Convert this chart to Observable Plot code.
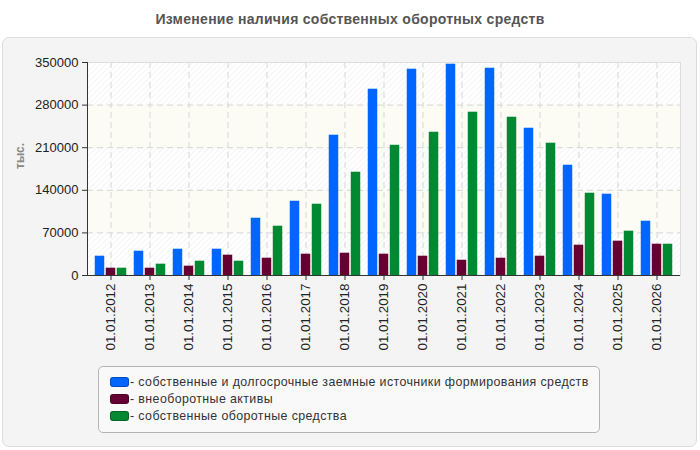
<!DOCTYPE html>
<html lang="ru">
<head>
<meta charset="utf-8">
<script src="https://cdn.jsdelivr.net/npm/d3@7"></script>
<script src="https://cdn.jsdelivr.net/npm/@observablehq/plot@0.6"></script>
<style>
  html, body { margin: 0; padding: 0; background: #fff; }
  body { width: 700px; height: 450px; position: relative; overflow: hidden;
         font-family: "Liberation Sans", Arial, sans-serif; }
  #panel { position: absolute; left: 2px; top: 37px; width: 693px; height: 408px;
           background: #f4f4f4; border: 1px solid #dcdcdc; border-radius: 7px; }
  #title { position: absolute; left: 0; top: 11px; width: 700px; text-align: center;
           font-size: 14px; letter-spacing: 0.28px; font-weight: bold; color: #555; }
  #chart { position: absolute; left: 0; top: 0; }
  #legend { position: absolute; left: 98px; top: 366px; width: 502px; height: 67px;
            background: #f9f9f9; border: 1px solid #b4b4b4; border-radius: 5px;
            box-sizing: border-box; padding: 7px 0 0 11px; font-size: 12.4px;
            letter-spacing: 0.4px; color: #333; }
  .row { height: 17px; line-height: 17px; white-space: nowrap; }
  .sw { display: inline-block; width: 17px; height: 8px; border-radius: 3px;
        border: 1px solid rgba(0,0,0,0.25); vertical-align: -1px; margin-right: 1px; }
</style>
</head>
<body>
<div id="panel"></div>
<div id="title">Изменение наличия собственных оборотных средств</div>
<div id="chart"></div>
<div id="legend"></div>
<script>
// Dates of the balance sheets
const dates = ["01.01.2012", "01.01.2013", "01.01.2014", "01.01.2015", "01.01.2016",
  "01.01.2017", "01.01.2018", "01.01.2019", "01.01.2020", "01.01.2021",
  "01.01.2022", "01.01.2023", "01.01.2024", "01.01.2025", "01.01.2026"];

// Own and long-term borrowed sources, thousand
const sources = [31700, 39900, 43200, 43200, 94100, 122000, 230500, 306100, 339000,
  347200, 340600, 242000, 181200, 133600, 89200];

// Non-current assets, thousand
const nonCurrent = [12000, 12000, 15300, 33400, 28400, 35000, 36600, 35000, 31700,
  25100, 28400, 31700, 49800, 56400, 51400];

// Own working capital, thousand
const working = [12000, 18600, 23500, 23500, 81000, 117100, 169700, 214000, 235400,
  268300, 260100, 217400, 135200, 72800, 51400];

const seriesNames = [
  "собственные и долгосрочные заемные источники формирования средств",
  "внеоборотные активы",
  "собственные оборотные средства"
];
const seriesColors = ["#0066ff", "#660033", "#008833"];
const yTicks = [0, 70000, 140000, 210000, 280000, 350000];

const width = 700, height = 360;
const marginLeft = 87, marginRight = 20, marginTop = 62, marginBottom = 85;

// Horizontal layout of the three bars inside each date band
const step = (width - marginLeft - marginRight) / dates.length;
const padOuter = step * 0.095, gap = 1;
const barW = (step - 2 * padOuter - 2 * gap) / 3;
const inset = i => {
  const left = padOuter + i * (barW + gap);
  return {insetLeft: left, insetRight: step - left - barW};
};

const rows = dates.map((d, i) => ({date: d, s: sources[i], n: nonCurrent[i], w: working[i]}));
const bands = yTicks.slice(0, -1).map((v, i) => ({lo: v, hi: yTicks[i + 1], i}));

const grid = {stroke: "#d6d6d6", strokeOpacity: 1, strokeDasharray: "6,4"};

const svg = Plot.plot({
  width, height, marginLeft, marginRight, marginTop, marginBottom,
  style: {background: "transparent", fontFamily: "'Liberation Sans', Arial, sans-serif", fontSize: "13px", color: "#222"},
  x: {type: "band", domain: dates, padding: 0, axis: null},
  y: {domain: [0, 350000], axis: null},
  marks: [
    Plot.rectY(bands.filter(b => b.i % 2 === 0), {y1: "lo", y2: "hi", fill: "url(#hatch)"}),
    Plot.rectY(bands.filter(b => b.i % 2 === 1), {y1: "lo", y2: "hi", fill: "#fcfcf5"}),
    Plot.gridY(yTicks, grid),
    Plot.gridX(dates, grid),
    Plot.frame({stroke: "#dddddd"}),
    Plot.barY(rows, {x: "date", y: "s", fill: seriesColors[0], ...inset(0)}),
    Plot.barY(rows, {x: "date", y: "n", fill: seriesColors[1], ...inset(1)}),
    Plot.barY(rows, {x: "date", y: "w", fill: seriesColors[2], ...inset(2)}),
    Plot.ruleY([0], {stroke: "#333"}),
    Plot.frame({anchor: "left", stroke: "#333"}),
    Plot.axisY(yTicks, {tickSize: 5, tickPadding: 4, tickFormat: d => String(d), fontSize: 13, label: null, stroke: "#333"}),
    Plot.axisX(dates, {tickSize: 5, tickPadding: 3, tickRotate: -90, fontSize: 13.4, label: null, stroke: "#333"}),
    Plot.text(["тыс."], {frameAnchor: "left", dx: -67, rotate: -90, fontWeight: "bold",
      fontSize: 12, fill: "#888"})
  ]
});

// Hatch pattern for the alternating background bands
const defs = d3.select(svg).insert("defs", ":first-child");
const pat = defs.append("pattern").attr("id", "hatch").attr("patternUnits", "userSpaceOnUse")
  .attr("width", 4).attr("height", 4).attr("patternTransform", "rotate(45)");
pat.append("rect").attr("width", 4).attr("height", 4).attr("fill", "#ffffff");
pat.append("line").attr("x1", 0).attr("y1", 0).attr("x2", 0).attr("y2", 4)
  .attr("stroke", "#eeeeee").attr("stroke-width", 1.2);

document.getElementById("chart").appendChild(svg);

// Legend
const legend = d3.select("#legend");
seriesNames.forEach((name, i) => {
  const row = legend.append("div").attr("class", "row");
  row.append("span").attr("class", "sw").style("background", seriesColors[i]);
  row.append("span").text("- " + name);
});
</script>
</body>
</html>
